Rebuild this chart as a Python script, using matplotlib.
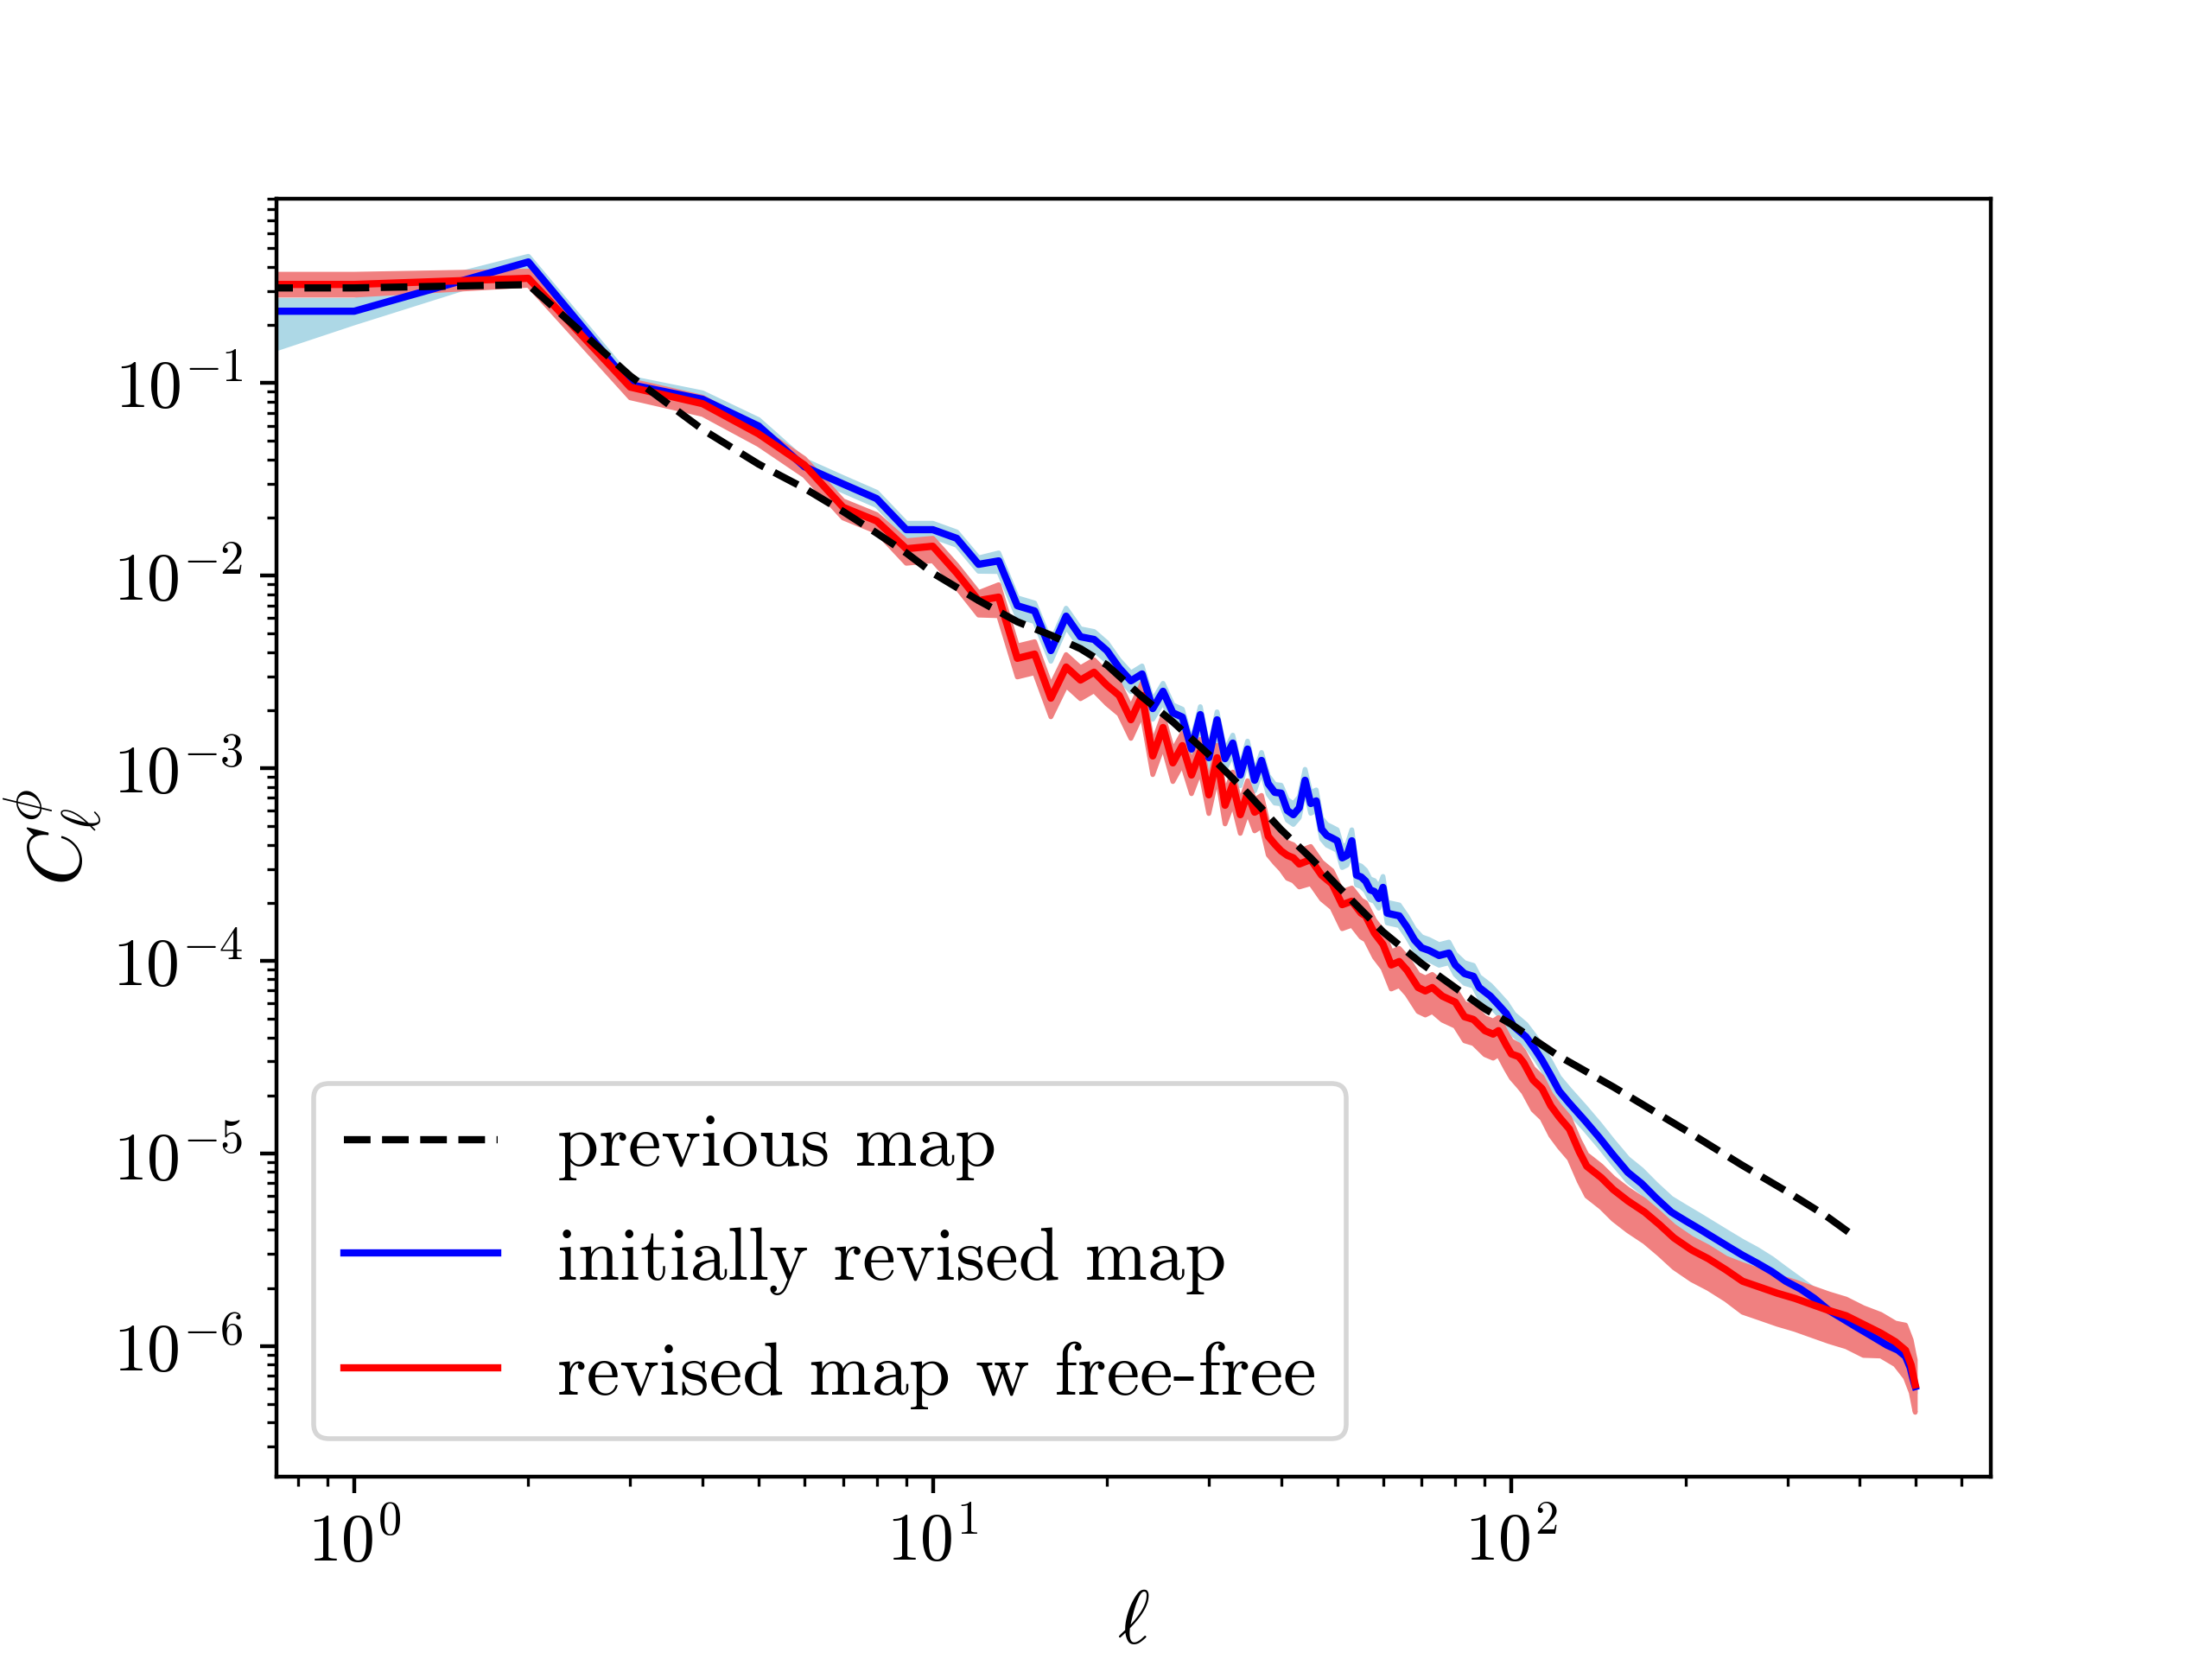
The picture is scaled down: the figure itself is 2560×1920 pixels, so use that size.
import matplotlib
matplotlib.use("Agg")
import matplotlib.pyplot as plt
import numpy as np

plt.rcParams['font.family'] = 'serif'
plt.rcParams['font.serif'] = ['cmr10']
plt.rcParams['mathtext.fontset'] = 'cm'
plt.rcParams['axes.formatter.use_mathtext'] = True

# previous map (dashed), log10 C_ell
ell_prev = [0, 1, 2, 3, 4, 5, 6, 7, 8, 9, 10, 12, 14, 16, 18, 20, 23, 26, 30, 35,
            40, 45, 50, 60, 70, 80, 90, 100, 120, 150, 200, 250, 300, 350, 383]
logc_prev = [-0.507, -0.507, -0.490, -0.964, -1.242, -1.422, -1.547, -1.668, -1.780, -1.883,
             -1.987, -2.130, -2.240, -2.310, -2.380, -2.465, -2.630, -2.760, -2.930, -3.130,
             -3.320, -3.466, -3.610, -3.850, -4.015, -4.140, -4.250, -4.330, -4.490, -4.655,
             -4.880, -5.060, -5.200, -5.325, -5.410]

# initially revised map (blue)
ell_blue = list(range(0, 63)) + [64, 66, 68, 70, 72, 75, 78, 80, 83, 86, 88, 92, 95, 98,
            101, 106, 110, 113, 117, 121, 126, 134, 142, 150, 159, 168, 178, 189, 200,
            212, 224, 237, 251, 266, 282, 298, 316, 334, 354, 375, 397, 421, 446,
            466, 480, 489, 494, 499]
logc_blue = [-0.628, -0.628, -0.372, -1.009, -1.085, -1.224, -1.435, -1.525, -1.601, -1.762,
             -1.762, -1.807, -1.942, -1.924, -2.157, -2.184, -2.390, -2.211, -2.318, -2.332,
             -2.390, -2.480, -2.547, -2.511, -2.691, -2.601, -2.713, -2.735, -2.901, -2.722,
             -2.946, -2.749, -2.951, -2.870, -3.036, -2.901, -3.063, -2.960, -3.081, -3.126,
             -3.130, -3.220, -3.242, -3.206, -3.063, -3.184, -3.170, -3.318, -3.350, -3.363,
             -3.377, -3.466, -3.453, -3.377, -3.556, -3.565, -3.587, -3.632, -3.641, -3.677,
             -3.619, -3.753, -3.758,
             -3.767, -3.825, -3.892, -3.933, -3.946, -3.973, -3.960, -4.022, -4.067, -4.081,
             -4.139, -4.184, -4.229, -4.274,
             -4.341, -4.395, -4.462, -4.516, -4.596, -4.677, -4.740, -4.830, -4.919, -5.009,
             -5.099, -5.157, -5.233, -5.305, -5.350, -5.395, -5.439, -5.484, -5.529, -5.570,
             -5.614, -5.664,
             -5.704, -5.753, -5.816, -5.861, -5.906, -5.951, -5.996,
             -6.022, -6.054, -6.112, -6.166, -6.211]
# band width as fraction of the value (upper / lower)
blue_up = [0.14, 0.14, 0.07,
           0.08, 0.08, 0.08, 0.08, 0.08, 0.08, 0.08, 0.08, 0.08, 0.08,
           0.10, 0.10, 0.10, 0.10, 0.10, 0.10, 0.10, 0.10, 0.10, 0.10, 0.10, 0.10, 0.10, 0.10,
           0.10, 0.10, 0.10, 0.10, 0.10, 0.10, 0.10, 0.10, 0.10, 0.10, 0.10, 0.10, 0.10, 0.10,
           0.14, 0.14, 0.14, 0.14, 0.14, 0.14, 0.14, 0.14, 0.14, 0.14, 0.14, 0.14, 0.14, 0.14,
           0.14, 0.14, 0.14, 0.14, 0.14, 0.14, 0.14, 0.14,
           0.14, 0.14, 0.14, 0.14, 0.14, 0.14, 0.14, 0.14, 0.14, 0.14, 0.14, 0.14, 0.14, 0.14,
           0.16, 0.16, 0.17, 0.17, 0.18, 0.18, 0.18, 0.18, 0.18, 0.18, 0.18, 0.18, 0.18, 0.18,
           0.18, 0.18, 0.18, 0.18, 0.18, 0.18, 0.17, 0.16,
           0.12, 0.11, 0.10, 0.10, 0.10, 0.10, 0.10,
           0.08, 0.08, 0.08, 0.08, 0.08]
blue_dn = [1.00, 0.13, 0.07,
           0.08, 0.08, 0.08, 0.08, 0.08, 0.08, 0.08, 0.08, 0.08, 0.08,
           0.12, 0.12, 0.12, 0.12, 0.12, 0.12, 0.12, 0.12, 0.12, 0.12, 0.12, 0.12, 0.12, 0.12,
           0.12, 0.12, 0.12, 0.12, 0.12, 0.12, 0.12, 0.12, 0.12, 0.12, 0.12, 0.12, 0.12, 0.12,
           0.11, 0.11, 0.11, 0.11, 0.11, 0.11, 0.11, 0.11, 0.11, 0.11, 0.11, 0.11, 0.11, 0.11,
           0.11, 0.11, 0.11, 0.11, 0.11, 0.11, 0.11, 0.11,
           0.11, 0.11, 0.11, 0.11, 0.11, 0.11, 0.11, 0.11, 0.11, 0.11, 0.11, 0.11, 0.11, 0.11,
           0.10, 0.10, 0.10, 0.10, 0.10, 0.10, 0.10, 0.10, 0.10, 0.10, 0.10, 0.10, 0.10, 0.10,
           0.10, 0.10, 0.10, 0.10, 0.10, 0.10, 0.10, 0.10,
           0.08, 0.08, 0.08, 0.08, 0.08, 0.08, 0.08,
           0.08, 0.08, 0.08, 0.08, 0.08]

# revised map with free-free (red)
ell_red = list(range(0, 44)) + [45, 47, 49, 51, 53, 55, 56, 58, 60, 62, 64, 66, 69, 71,
           73, 76, 80, 83, 86, 90, 93, 95, 98, 100,
           103, 105, 109, 113, 117, 121, 126, 131, 135, 143, 150, 159, 170, 180, 191, 205,
           219, 235, 251, 269, 288, 309, 331, 354, 379, 406, 435, 461, 480, 491, 497, 499]
logc_red = [-0.489, -0.489, -0.457, -1.022, -1.108, -1.265, -1.426, -1.646, -1.717, -1.861,
            -1.848, -1.987, -2.130, -2.112, -2.430, -2.408, -2.637, -2.475, -2.543, -2.502,
            -2.570, -2.623, -2.749, -2.623, -2.937, -2.789, -2.973, -2.883, -3.036, -2.915,
            -3.139, -2.946, -3.193, -3.085, -3.242, -3.130, -3.229, -3.206, -3.354, -3.395,
            -3.430, -3.453, -3.466, -3.498,
            -3.475, -3.556, -3.601, -3.709, -3.691, -3.753, -3.767, -3.857, -3.915, -4.022,
            -4.004, -4.049, -4.139, -4.157, -4.139, -4.184, -4.215, -4.291, -4.305, -4.363,
            -4.381, -4.363, -4.439, -4.484,
            -4.498, -4.529, -4.619, -4.664, -4.753, -4.812, -4.874, -4.991, -5.067, -5.126,
            -5.188, -5.247, -5.305, -5.368, -5.439, -5.502, -5.547, -5.605,
            -5.664, -5.695, -5.726, -5.753, -5.785, -5.816, -5.843, -5.888,
            -5.933, -5.978, -6.022, -6.099, -6.179, -6.202]
red_up = [0.13, 0.13, 0.09,
          0.08, 0.08, 0.08, 0.08, 0.08, 0.08,
          0.10, 0.10, 0.10, 0.10,
          0.16, 0.16, 0.16, 0.16, 0.16, 0.16, 0.16, 0.16, 0.16, 0.16, 0.16, 0.16, 0.16, 0.16,
          0.16, 0.16, 0.16, 0.16, 0.16, 0.16, 0.16, 0.16, 0.16, 0.16, 0.16, 0.16, 0.16, 0.16,
          0.17, 0.17, 0.17,
          0.17, 0.17, 0.17, 0.17, 0.17, 0.17, 0.17, 0.17, 0.17, 0.17, 0.17, 0.17, 0.17, 0.17,
          0.17, 0.17, 0.17, 0.17, 0.17, 0.17, 0.17, 0.17, 0.17, 0.17,
          0.15, 0.15, 0.15, 0.15, 0.15, 0.15, 0.15, 0.15, 0.15, 0.15, 0.15, 0.15, 0.15, 0.15,
          0.15, 0.15, 0.15, 0.15,
          0.22, 0.22, 0.22, 0.22, 0.22, 0.22, 0.22, 0.22,
          0.25, 0.25, 0.35, 0.35, 0.35, 0.35]
red_dn = [0.12, 0.12, 0.08,
          0.12, 0.12, 0.12, 0.12, 0.12, 0.12,
          0.16, 0.16, 0.16, 0.16,
          0.20, 0.20, 0.20, 0.20, 0.20, 0.20, 0.20, 0.20, 0.20, 0.20, 0.20, 0.20, 0.20, 0.20,
          0.20, 0.20, 0.20, 0.20, 0.20, 0.20, 0.20, 0.20, 0.20, 0.20, 0.20, 0.20, 0.20, 0.20,
          0.24, 0.24, 0.24,
          0.25, 0.25, 0.25, 0.25, 0.25, 0.25, 0.25, 0.25, 0.25, 0.25, 0.25, 0.25, 0.25, 0.25,
          0.25, 0.25, 0.25, 0.25, 0.25, 0.25, 0.25, 0.25, 0.25, 0.25,
          0.30, 0.30, 0.30, 0.30, 0.30, 0.30, 0.30, 0.30, 0.30, 0.30, 0.30, 0.30, 0.30, 0.30,
          0.30, 0.30, 0.30, 0.30,
          0.31, 0.31, 0.31, 0.31, 0.31, 0.31, 0.31, 0.31,
          0.24, 0.24, 0.28, 0.28, 0.28, 0.28]

prev = 10 ** np.array(logc_prev)
blue = 10 ** np.array(logc_blue)
red = 10 ** np.array(logc_red)

fig, ax = plt.subplots(figsize=(6.4, 4.8), dpi=400)
ax.set_xscale('log')
ax.set_yscale('log')

ax.fill_between(ell_blue, blue * (1 - np.array(blue_dn)), blue * (1 + np.array(blue_up)),
                color='lightblue')
ax.fill_between(ell_red, red * (1 - np.array(red_dn)), red * (1 + np.array(red_up)),
                color='lightcoral')
ax.plot(ell_prev, prev, 'k--', label='previous map', zorder=3)
ax.plot(ell_blue, blue, color='blue', label='initially revised map')
ax.plot(ell_red, red, color='red', label='revised map w free-free')

ax.set_xlim(0.734, 674)
ax.set_ylim(2.1e-7, 0.90)
ax.tick_params(labelsize=14)
ax.set_xlabel(r'$\ell$', fontsize=16, labelpad=3)
ax.set_ylabel(r'$C_\ell^\phi$', fontsize=16, labelpad=1.5)
ax.legend(loc='lower left', fontsize=15.6, labelspacing=0.62, handlelength=2.05)

fig.savefig('out.png', dpi=400)
